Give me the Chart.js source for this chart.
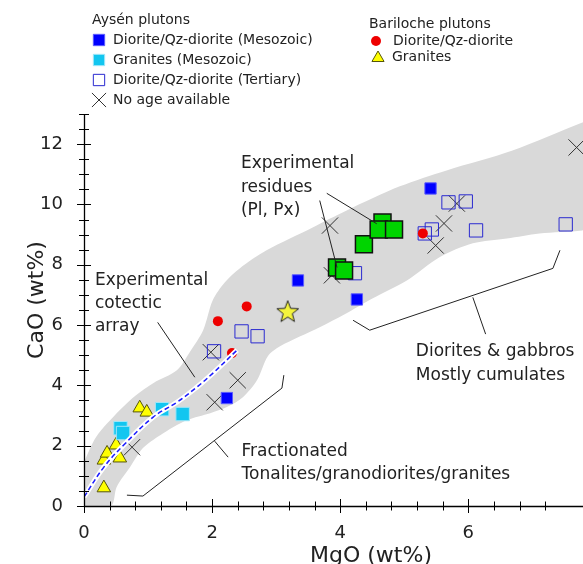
<!DOCTYPE html>
<html lang="en">
<head>
<meta charset="UTF-8">
<title>CaO vs MgO</title>
<script src="https://cdn.jsdelivr.net/npm/chart.js"></script>
<style>
  html, body { margin: 0; padding: 0; background: #fff; }
  #wrap { width: 583px; height: 564px; }
</style>
</head>
<body>
<div id="wrap"><canvas id="grafico" width="583" height="564"></canvas></div>
<script>
// Aysén plutons
const mesoDioriteMgO = [2.23, 3.34, 4.26, 5.41];
const mesoDioriteCaO = [3.58, 7.48, 6.85, 10.53];
const mesoGraniteMgO = [0.57, 0.61, 1.22, 1.54];
const mesoGraniteCaO = [2.58, 2.42, 3.21, 3.05];
const tertDioriteMgO = [2.03, 2.46, 2.71, 4.23, 5.32, 5.43, 5.69, 5.96, 6.12, 7.52];
const tertDioriteCaO = [5.13, 5.79, 5.63, 7.72, 9.04, 9.17, 10.07, 10.10, 9.14, 9.34];
const noAgeMgO = [0.75, 2.04, 2.40, 1.98, 3.84, 3.87, 5.49, 5.62, 5.82, 7.69];
const noAgeCaO = [1.95, 3.44, 4.17, 5.10, 9.30, 7.65, 8.64, 9.37, 10.03, 11.89];

// Bariloche plutons
const barDioriteMgO = [2.09, 2.54, 2.31, 5.29];
const barDioriteCaO = [6.13, 6.62, 5.07, 9.04];
const barGraniteMgO = [0.31, 0.31, 0.36, 0.50, 0.56, 0.87, 0.98];
const barGraniteCaO = [0.60, 1.52, 1.75, 2.02, 1.59, 3.25, 3.11];
const starMgO = [3.18];
const starCaO = [6.46];

// experimental residues (Pl, Px)
const residueMgO = [3.95, 4.06, 4.37, 4.66, 4.60, 4.84];
const residueCaO = [7.91, 7.81, 8.68, 9.40, 9.17, 9.17];

// experimental cotectic array
const cotecticMgO = [0, 0.31, 0.62, 1.08, 1.45, 1.76, 2.01, 2.39];
const cotecticCaO = [0.30, 1.29, 2.02, 2.95, 3.44, 3.94, 4.40, 5.17];

// grey field (upper edge left->right, lower edge right->left)
const bandMgO = [0, 0.16, 0.31, 0.72, 1.08, 1.45, 1.65, 1.86, 2.01, 2.20, 2.43, 2.85, 3.57, 4.10, 4.93, 5.66, 6.69, 7.78, 8.2,
                 8.2, 7.78, 7.11, 6.60, 6.07, 5.55, 5.04, 4.51, 4.07, 3.68, 3.06, 2.87, 2.70, 2.48, 2.23, 1.97, 1.61, 1.19, 0.92, 0.72, 0.51, 0.42, 0];
const bandCaO = [1.46, 2.19, 2.62, 3.51, 4.07, 4.50, 5.10, 5.83, 6.82, 7.42, 7.88, 8.48, 9.24, 9.80, 10.60, 11.13, 11.79, 12.72, 13.0,
                 9.30, 9.14, 9.04, 8.87, 8.71, 8.25, 7.48, 6.89, 6.36, 5.93, 5.30, 4.97, 4.17, 3.61, 3.28, 3.08, 2.85, 2.35, 1.92, 1.29, 0.63, 0, 0];

// leader lines and brackets
const cotLeaderMgO = [1.15, 1.73];
const cotLeaderCaO = [6.09, 4.27];
const resLeaderAMgO = [3.68, 3.95];
const resLeaderACaO = [10.13, 7.91];
const resLeaderBMgO = [3.79, 4.57];
const resLeaderBCaO = [10.37, 9.36];
const dioBracketMgO = [4.20, 4.46, 7.32, 7.43];
const dioBracketCaO = [6.16, 5.83, 7.88, 8.48];
const dioLeaderMgO = [6.07, 6.27];
const dioLeaderCaO = [6.92, 5.70];
const fraBracketMgO = [0.67, 0.92, 3.09, 3.12];
const fraBracketCaO = [0.36, 0.33, 3.91, 4.34];
const fraLeaderMgO = [2.04, 2.25];
const fraLeaderCaO = [2.15, 1.62];

const pares = (xs, ys) => xs.map((v, i) => ({ x: v, y: ys[i] }));

// five-pointed star marker
const estrella = document.createElement('canvas');
estrella.width = 26; estrella.height = 26;
(function () {
  const c = estrella.getContext('2d');
  c.beginPath();
  for (let i = 0; i < 10; i++) {
    const r = i % 2 ? 4.8 : 11.5;
    const a = -Math.PI / 2 + i * Math.PI / 5;
    c.lineTo(13 + r * Math.cos(a), 14 + r * Math.sin(a));
  }
  c.closePath();
  c.fillStyle = '#f4f43c';
  c.fill();
  c.strokeStyle = '#222';
  c.lineWidth = 1;
  c.stroke();
})();

const estilos = {
  mesoDiorite: { pointStyle: 'rect', radius: 8, bg: '#0000ff', border: '#5a5aff', bw: 1 },
  mesoGranite: { pointStyle: 'rect', radius: 9.5, bg: '#12c6f0', border: '#9fe6f8', bw: 1 },
  tertDiorite: { pointStyle: 'rect', radius: 9.4, bg: 'rgba(0,0,0,0)', border: '#2a2ad0', bw: 1 },
  noAge: { pointStyle: 'crossRot', radius: 11.5, bg: '#333', border: '#333', bw: 1 },
  barDiorite: { pointStyle: 'circle', radius: 5, bg: '#ee0000', border: '#ee0000', bw: 0 },
  barGranite: { pointStyle: 'triangle', radius: 7.8, bg: '#ffff00', border: '#55550a', bw: 1 },
  star: { pointStyle: estrella, radius: 12, bg: '#f4f43c', border: '#222', bw: 1 },
  residue: { pointStyle: 'rect', radius: 12, bg: '#00d400', border: '#111', bw: 1.5 }
};

function puntos(label, xs, ys, e, order) {
  return {
    label, data: pares(xs, ys), showLine: false, order,
    pointStyle: e.pointStyle, pointRadius: e.radius, pointHoverRadius: e.radius,
    pointBackgroundColor: e.bg, pointBorderColor: e.border, pointBorderWidth: e.bw
  };
}

function linea(xs, ys, order) {
  return {
    data: pares(xs, ys), showLine: true, order, pointRadius: 0,
    borderColor: '#222', borderWidth: 1, fill: false, tension: 0
  };
}

const notas = [
  { lineas: ['Experimental', 'cotectic', 'array'], x: 0.17, y: 7.46, lh: 23 },
  { lineas: ['Experimental', 'residues', '(Pl, Px)'], x: 2.45, y: 11.34, lh: 23.5 },
  { lineas: ['Diorites & gabbros', 'Mostly cumulates'], x: 5.18, y: 5.11, lh: 24 },
  { lineas: ['Fractionated', 'Tonalites/granodiorites/granites'], x: 2.46, y: 1.79, lh: 23 }
];

const FUENTE = '"DejaVu Sans", sans-serif';

function simbolo(ctx, e, x, y) {
  ctx.save();
  ctx.fillStyle = e.bg;
  ctx.strokeStyle = e.border;
  ctx.lineWidth = e.bw;
  Chart.helpers.drawPoint(ctx, { pointStyle: e.pointStyle, radius: e.radius, rotation: 0, borderWidth: e.bw }, x, y);
  ctx.restore();
}

const ejes = {
  id: 'ejes',
  afterDatasetsDraw(chart) {
    const { ctx, chartArea: a, scales: { x, y } } = chart;
    ctx.save();
    ctx.strokeStyle = '#000';
    ctx.lineWidth = 1.3;
    ctx.beginPath();
    ctx.moveTo(a.left + 0.5, a.top);
    ctx.lineTo(a.left + 0.5, a.bottom + 0.5);
    ctx.lineTo(a.right, a.bottom + 0.5);
    ctx.stroke();
    ctx.lineWidth = 1;
    const multiplo = (v, m) => Math.abs(v / m - Math.round(v / m)) < 1e-6;
    x.ticks.forEach(t => {
      if (!multiplo(t.value, 0.4)) return;
      const h = multiplo(t.value, 2) ? 7 : 4.5;
      const px = Math.round(x.getPixelForValue(t.value)) + 0.5;
      ctx.beginPath(); ctx.moveTo(px, a.bottom - h); ctx.lineTo(px, a.bottom + h); ctx.stroke();
    });
    y.ticks.forEach(t => {
      if (!multiplo(t.value, 0.5)) return;
      const h = multiplo(t.value, 2) ? 7 : 5;
      const py = Math.round(y.getPixelForValue(t.value)) + 0.5;
      ctx.beginPath(); ctx.moveTo(a.left - h, py); ctx.lineTo(a.left + h, py); ctx.stroke();
    });
    ctx.restore();
  },
  afterDraw(chart) {
    const { ctx, scales: { x, y } } = chart;
    ctx.save();
    ctx.fillStyle = '#222';
    ctx.textBaseline = 'middle';
    ctx.textAlign = 'left';

    // annotations
    ctx.font = '17px ' + FUENTE;
    notas.forEach(n => {
      const px = x.getPixelForValue(n.x);
      const py = y.getPixelForValue(n.y);
      n.lineas.forEach((l, i) => ctx.fillText(l, px, py + i * n.lh));
    });

    // legend
    ctx.font = '14px ' + FUENTE;
    ctx.fillText('Aysén plutons', 92, 20);
    const leyenda1 = [
      ['Diorite/Qz-diorite (Mesozoic)', estilos.mesoDiorite],
      ['Granites (Mesozoic)', estilos.mesoGranite],
      ['Diorite/Qz-diorite (Tertiary)', estilos.tertDiorite],
      ['No age available', estilos.noAge]
    ];
    leyenda1.forEach(([txt, e], i) => {
      const yy = 40 + i * 20;
      const es = Object.assign({}, e, { radius: e.pointStyle === 'crossRot' ? 10 : 8 });
      simbolo(ctx, es, 99, yy);
      ctx.fillStyle = '#222';
      ctx.fillText(txt, 113, yy);
    });
    ctx.fillText('Bariloche plutons', 369, 24);
    simbolo(ctx, estilos.barDiorite, 376, 41);
    ctx.fillStyle = '#222';
    ctx.fillText('Diorite/Qz-diorite', 393, 41);
    simbolo(ctx, Object.assign({}, estilos.barGranite, { radius: 7 }), 378, 58);
    ctx.fillStyle = '#222';
    ctx.fillText('Granites', 392, 57);

    // axis titles
    ctx.font = '22px ' + FUENTE;
    ctx.textAlign = 'center';
    ctx.textBaseline = 'alphabetic';
    ctx.fillText('MgO (wt%)', 371, 562);
    ctx.translate(43, 300);
    ctx.rotate(-Math.PI / 2);
    ctx.fillText('CaO (wt%)', 0, 0);
    ctx.restore();
  }
};

const ctx = document.getElementById('grafico').getContext('2d');
new Chart(ctx, {
  type: 'scatter',
  data: {
    datasets: [
      {
        data: pares(bandMgO, bandCaO), showLine: true, order: 20, pointRadius: 0,
        borderWidth: 0, borderColor: 'rgba(0,0,0,0)', backgroundColor: '#d9d9d9',
        fill: 'shape', tension: 0.3
      },
      puntos('No age available', noAgeMgO, noAgeCaO, estilos.noAge, 8),
      puntos('Diorite/Qz-diorite (Tertiary)', tertDioriteMgO, tertDioriteCaO, estilos.tertDiorite, 7),
      puntos('Diorite/Qz-diorite (Mesozoic)', mesoDioriteMgO, mesoDioriteCaO, estilos.mesoDiorite, 6),
      puntos('Granites (Mesozoic)', mesoGraniteMgO, mesoGraniteCaO, estilos.mesoGranite, 6),
      puntos('Bariloche Diorite/Qz-diorite', barDioriteMgO, barDioriteCaO, estilos.barDiorite, 6),
      puntos('Bariloche Granites', barGraniteMgO, barGraniteCaO, estilos.barGranite, 6),
      puntos('Star', starMgO, starCaO, estilos.star, 6),
      puntos('Experimental residues', residueMgO, residueCaO, estilos.residue, 4),
      {
        data: pares(cotecticMgO, cotecticCaO), showLine: true, order: 3, pointRadius: 0,
        borderColor: '#ffffff', borderWidth: 5, tension: 0.4, fill: false
      },
      {
        data: pares(cotecticMgO, cotecticCaO), showLine: true, order: 2, pointRadius: 0,
        borderColor: '#1a1aff', borderWidth: 1.5, borderDash: [5, 3], tension: 0.4, fill: false
      },
      linea(cotLeaderMgO, cotLeaderCaO, 1),
      linea(resLeaderAMgO, resLeaderACaO, 1),
      linea(resLeaderBMgO, resLeaderBCaO, 1),
      linea(dioBracketMgO, dioBracketCaO, 1),
      linea(dioLeaderMgO, dioLeaderCaO, 1),
      linea(fraBracketMgO, fraBracketCaO, 1),
      linea(fraLeaderMgO, fraLeaderCaO, 1)
    ]
  },
  options: {
    responsive: false,
    animation: false,
    layout: { autoPadding: false, padding: { top: 114, right: 0, left: 0, bottom: 0 } },
    plugins: { legend: { display: false }, tooltip: { enabled: false } },
    scales: {
      x: {
        type: 'linear', min: 0, max: 7.79,
        border: { display: false },
        grid: { display: false, drawTicks: true, tickLength: 17 },
        ticks: {
          stepSize: 0.4, autoSkip: false, maxRotation: 0, padding: 0,
          color: '#222', font: { family: FUENTE, size: 18 },
          callback: v => Math.abs(v / 2 - Math.round(v / 2)) < 1e-6 ? String(Math.round(v)) : ''
        },
        afterFit: s => { s.height = 58; s.paddingLeft = 0; s.paddingRight = 0; }
      },
      y: {
        type: 'linear', min: 0, max: 13,
        border: { display: false },
        grid: { display: false, drawTicks: true, tickLength: 21 },
        ticks: {
          stepSize: 0.5, autoSkip: false, padding: 0,
          color: '#222', font: { family: FUENTE, size: 18 },
          callback: v => Math.abs(v / 2 - Math.round(v / 2)) < 1e-6 ? String(Math.round(v)) : ''
        },
        afterFit: s => { s.width = 84; s.paddingTop = 0; s.paddingBottom = 0; }
      }
    }
  },
  plugins: [ejes]
});
</script>
</body>
</html>
